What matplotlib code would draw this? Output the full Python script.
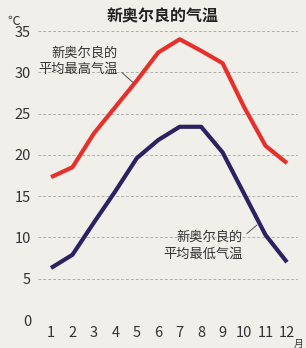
import matplotlib.pyplot as plt
import numpy as np

plt.rcParams['font.family'] = ['Noto Sans CJK SC', 'DejaVu Sans']

months = [1, 2, 3, 4, 5, 6, 7, 8, 9, 10, 11, 12]
high_temp = [17.3, 18.5, 22.6, 25.8, 29.0, 32.4, 34.0, 32.6, 31.1, 25.8, 21.1, 19.0]
low_temp = [6.3, 7.9, 11.8, 15.6, 19.6, 21.8, 23.4, 23.4, 20.3, 15.3, 10.3, 7.0]
y_ticks = [0, 5, 10, 15, 20, 25, 30, 35]

bg = '#f1efea'
fig = plt.figure(figsize=(3.06, 3.48), dpi=100, facecolor=bg)
ax = fig.add_axes([38 / 306, 28 / 348, 260 / 306, 289 / 348], facecolor=bg)

ax.plot(months, high_temp, color='#e8302a', linewidth=3, solid_capstyle='butt', clip_on=False)
ax.plot(months, low_temp, color='#2b2262', linewidth=3, solid_capstyle='butt', clip_on=False)

ax.set_xlim(0.394, 12.515)
ax.set_ylim(0, 35)
ax.set_yticks(y_ticks)
ax.set_xticks(months)
for y in y_ticks:
    ax.axhline(y, color='#b0b0b0', linewidth=0.7, linestyle=(0, (3, 2)), zorder=0)
for s in ax.spines.values():
    s.set_visible(False)
ax.tick_params(length=0, labelsize=10.5, colors='#333333')
ax.tick_params(axis='y', pad=5)
ax.tick_params(axis='x', pad=4)

fig.text(163 / 306, 1 - 16 / 348, '新奥尔良的气温', ha='center', va='center',
         fontsize=11.5, fontweight='bold', color='#222222')
fig.text(7 / 306, 1 - 21 / 348, '℃', ha='left', va='center', fontsize=9, color='#333333')
fig.text(299 / 306, 1 - 344 / 348, '月', ha='center', va='center', fontsize=7, color='#333333')

ax.annotate('新奥尔良的\n平均最高气温', xy=(4.85, 28.7), xytext=(4.12, 31.3),
            ha='right', va='center', fontsize=9.5, color='#333333', linespacing=1.35,
            arrowprops=dict(arrowstyle='-', color='#555555', linewidth=0.7,
                            shrinkA=1, shrinkB=0, relpos=(1.0, 0.25)))
ax.annotate('新奥尔良的\n平均最低气温', xy=(10.6, 11.5), xytext=(9.95, 9.0),
            ha='right', va='center', fontsize=9.5, color='#333333', linespacing=1.35,
            arrowprops=dict(arrowstyle='-', color='#555555', linewidth=0.7,
                            shrinkA=1, shrinkB=0, relpos=(1.0, 0.8)))

fig.savefig('out.png', dpi=100, facecolor=bg)
